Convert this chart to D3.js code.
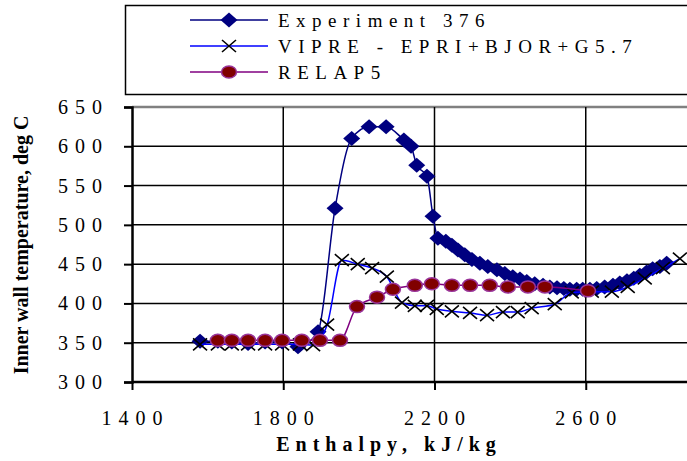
<!DOCTYPE html>
<html><head><meta charset="utf-8">
<script src="https://cdn.jsdelivr.net/npm/d3@7"></script>
<style>body{margin:0;background:#fff}svg{display:block}</style>
</head><body><svg id="c" width="687" height="461"></svg>
<script>
const xTicks = [1400, 1800, 2200, 2600, 3000];
const yTicks = [300, 350, 400, 450, 500, 550, 600, 650];

const expH = [1580, 1627, 1664, 1707, 1752, 1797, 1839, 1892, 1937, 1981, 2027, 2072, 2119, 2138, 2153, 2180, 2196, 2209, 2230, 2246, 2262, 2280, 2299, 2320, 2341, 2365, 2386, 2407, 2426, 2444, 2465, 2487, 2505, 2524, 2542, 2558, 2576, 2592, 2611, 2629, 2650, 2672, 2690, 2709, 2727, 2743, 2761, 2777, 2796, 2814];
const expT = [352, 352, 351, 349, 351, 351, 345, 364, 521, 610, 625, 625, 608, 600, 576, 562, 511, 483, 479, 474, 468, 462, 456, 451, 447, 443, 438, 434, 431, 428, 425, 423, 421, 420, 419, 418, 418, 418, 418, 419, 421, 423, 426, 429, 432, 436, 440, 444, 447, 451];

const vipreH = [1580, 1627, 1664, 1707, 1752, 1797, 1844, 1879, 1916, 1955, 1997, 2035, 2074, 2114, 2148, 2180, 2206, 2246, 2294, 2339, 2381, 2420, 2457, 2518, 2563, 2616, 2669, 2711, 2756, 2804, 2849];
const vipreT = [348, 348, 348, 348, 348, 348, 348, 347, 373, 455, 450, 445, 434, 401, 397, 397, 393, 390, 388, 385, 389, 389, 394, 399, 414, 415, 415, 421, 432, 445, 457];

const relapH = [1627, 1664, 1707, 1752, 1797, 1849, 1897, 1950, 1995, 2048, 2090, 2148, 2193, 2246, 2294, 2346, 2394, 2447, 2492, 2606];
const relapT = [353, 353, 353, 353, 353, 353, 353, 353, 396, 408, 418, 423, 425, 423, 423, 423, 421, 421, 421, 416];

const legendLabels = ["Experiment 376", "VIPRE - EPRI+BJOR+G5.7", "RELAP5"];

const svg = d3.select("#c");
const x = d3.scaleLinear().domain([1400, 3000]).range([132, 737]);
const y = d3.scaleLinear().domain([300, 650]).range([382, 107]);
const serif = "'Liberation Serif','Times New Roman',serif";

// gridlines
svg.append("g").selectAll("line").data(yTicks.filter(d => d > 300)).join("line")
  .attr("x1", x(1400)).attr("x2", 687).attr("y1", d => y(d)).attr("y2", d => y(d))
  .attr("stroke", d => d === 650 ? "#808080" : "#000").attr("stroke-width", d => d === 650 ? 2.5 : 1.5);
svg.append("g").selectAll("line").data(xTicks.filter(d => d > 1400)).join("line")
  .attr("x1", d => x(d)).attr("x2", d => x(d)).attr("y1", y(650)).attr("y2", y(300))
  .attr("stroke", "#000").attr("stroke-width", 1.5);

// axes
const yAxis = d3.axisLeft(y).tickValues(yTicks).tickSize(8).tickPadding(0).tickFormat(() => "");
const gy = svg.append("g").attr("transform", `translate(${x(1400)},0)`).call(yAxis);
const xAxis = d3.axisBottom(x).tickValues(xTicks).tickSize(8).tickPadding(0).tickFormat(() => "");
const gx = svg.append("g").attr("transform", `translate(0,${y(300)})`).call(xAxis);
[gx, gy].forEach(g => { g.select(".domain").attr("stroke", "#000").attr("stroke-width", 2.5);
  g.selectAll(".tick line").attr("stroke", "#000").attr("stroke-width", 2); });
gx.select(".domain").attr("d", `M${x(1400)},0H687`);

const ls = 7;
svg.append("g").selectAll("text").data(yTicks).join("text")
  .attr("x", 102 + ls).attr("y", d => y(d) + 7).attr("text-anchor", "end")
  .attr("font-family", serif).attr("font-size", 20).attr("letter-spacing", ls)
  .text(d => d);
svg.append("g").selectAll("text").data(xTicks.filter(d => d < 3000)).join("text")
  .attr("x", d => x(d) + ls / 2).attr("y", 425).attr("text-anchor", "middle")
  .attr("font-family", serif).attr("font-size", 20).attr("letter-spacing", ls)
  .text(d => d);

// titles
svg.append("text").attr("transform", "translate(28,245) rotate(-90)").attr("text-anchor", "middle")
  .attr("font-family", serif).attr("font-size", 20).attr("font-weight", "bold")
  .text("Inner wall temperature, deg C");
svg.append("text").attr("x", 386 + 3).attr("y", 451).attr("text-anchor", "middle")
  .attr("font-family", serif).attr("font-size", 20).attr("font-weight", "bold").attr("letter-spacing", 6)
  .text("Enthalpy, kJ/kg");

// series
const plot = svg.append("g");
const diamond = "M0,-7.5L8.5,0L0,7.5L-8.5,0Z";
const cross = "M-7,-6L7,6M-7,6L7,-6";
function drawLine(H, T, color, w) {
  plot.append("path").datum(H.map((h, i) => [h, T[i]]))
    .attr("fill", "none").attr("stroke", color).attr("stroke-width", w)
    .attr("d", d3.line().x(d => x(d[0])).y(d => y(d[1])).curve(d3.curveMonotoneX));
}
drawLine(expH, expT, "#000080", 1.5);
plot.append("g").selectAll("path").data(expH.map((h, i) => [h, expT[i]])).join("path")
  .attr("transform", d => `translate(${x(d[0])},${y(d[1])})`).attr("d", diamond).attr("fill", "#000080");

drawLine(vipreH, vipreT, "#0000FF", 1.5);
plot.append("g").selectAll("path").data(vipreH.map((h, i) => [h, vipreT[i]])).join("path")
  .attr("transform", d => `translate(${x(d[0])},${y(d[1])})`).attr("d", cross)
  .attr("stroke", "#000").attr("stroke-width", 1.6).attr("fill", "none");

drawLine(relapH, relapT, "#800080", 1.5);
plot.append("g").selectAll("ellipse").data(relapH.map((h, i) => [h, relapT[i]])).join("ellipse")
  .attr("cx", d => x(d[0])).attr("cy", d => y(d[1])).attr("rx", 7.5).attr("ry", 6)
  .attr("fill", "#800000").attr("stroke", "#993399").attr("stroke-width", 1.5);

// legend
svg.append("rect").attr("x", 125.5).attr("y", 5.5).attr("width", 600).attr("height", 89)
  .attr("fill", "#fff").attr("stroke", "#000").attr("stroke-width", 1.5);
const rows = [20, 46, 72];
const lcol = ["#000080", "#0000FF", "#800080"];
rows.forEach((ry, i) => {
  svg.append("line").attr("x1", 190).attr("x2", 268).attr("y1", ry).attr("y2", ry)
    .attr("stroke", lcol[i]).attr("stroke-width", 1.5);
  const mk = svg.append("g").attr("transform", `translate(229,${ry})`);
  if (i === 0) mk.append("path").attr("d", diamond).attr("fill", "#000080");
  if (i === 1) mk.append("path").attr("d", cross).attr("stroke", "#000").attr("stroke-width", 1.6);
  if (i === 2) mk.append("ellipse").attr("rx", 7.5).attr("ry", 6).attr("fill", "#800000").attr("stroke", "#993399").attr("stroke-width", 1.5);
  svg.append("text").attr("x", 278).attr("y", ry + 7).attr("font-family", serif).attr("font-size", 19)
    .attr("letter-spacing", 6.5).text(legendLabels[i]);
});
</script></body></html>
